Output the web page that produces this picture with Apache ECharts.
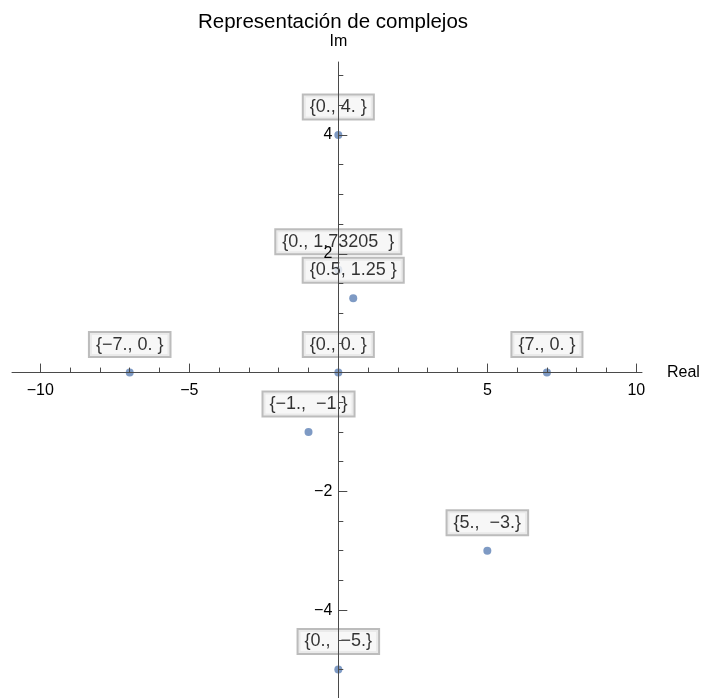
<!DOCTYPE html>
<html>
<head>
<meta charset="utf-8">
<script src="https://cdn.jsdelivr.net/npm/echarts@6/dist/echarts.min.js"></script>
<style>
  html, body { margin: 0; padding: 0; background: #ffffff; }
  #chart { width: 703px; height: 698px; }
</style>
</head>
<body>
<div id="chart"></div>
<script>
// Complex numbers plotted on the Argand plane
const titleText = 'Representación de complejos';
const realParts = [0, 0, 0.5, -7, 0, 7, -1, 5, 0];
const imagParts = [4, 1.73205, 1.25, 0, 0, 0, -1, -3, -5];
const pointLabels = [
  '{0., 4. }',
  '{0., 1.73205  }',
  '{0.5, 1.25 }',
  '{\u22127., 0. }',
  '{0., 0. }',
  '{7., 0. }',
  '{\u22121.,  \u22121.}',
  '{5.,  \u22123.}',
  '{0.,  \u22125.}'
];
const xMajorTicks = [-10, -5, 5, 10];
const xMinorTicks = [-9, -8, -7, -6, -4, -3, -2, -1, 1, 2, 3, 4, 6, 7, 8, 9];
const yMajorTicks = [-4, -2, 2, 4];
const yMinorTicks = [-5, -4.5, -3.5, -3, -2.5, -1.5, -1, -0.5, 0.5, 1, 1.5, 2.5, 3, 3.5, 4.5, 5];
const xRange = [-10.95, 10.19];
const yRange = [-5.48, 5.23];

const FONT = '"Liberation Sans", Arial, Helvetica, sans-serif';
const AXIS_COLOR = '#4a4a4a';
const minus = v => String(v).replace('-', '\u2212');

// plot area
const W = 703, H = 698;
const GRID = { left: 12, right: 61, top: 62, bottom: 0 };
const plotW = W - GRID.left - GRID.right;
const plotH = H - GRID.top - GRID.bottom;
// shift the axes inward so they cross at the origin
const xAxisShift = -(plotH * (0 - yRange[0]) / (yRange[1] - yRange[0]));
const yAxisShift = -(plotW * (0 - xRange[0]) / (xRange[1] - xRange[0]));

const points = realParts.map((x, i) => [x, imagParts[i]]);
const labelled = points.map((p, i) => ({ value: p, label: { formatter: pointLabels[i] } }));

function majorAxis(dim, range, ticks, name, shift) {
  const isX = dim === 'x';
  return {
    type: 'value',
    position: isX ? 'bottom' : 'left',
    offset: shift,
    min: range[0],
    max: range[1],
    z: 5,
    name: name,
    nameLocation: 'end',
    nameGap: isX ? 25 : 12,
    nameTextStyle: { color: '#000', fontSize: 16, fontFamily: FONT },
    axisLine: { show: true, onZero: false, lineStyle: { color: AXIS_COLOR, width: 1 } },
    axisTick: { show: true, inside: true, length: 9, customValues: ticks, lineStyle: { color: AXIS_COLOR, width: 1 } },
    axisLabel: {
      show: true, customValues: ticks, margin: isX ? 10 : 6,
      color: '#000', fontSize: 16, fontFamily: FONT,
      formatter: minus
    },
    splitLine: { show: false }
  };
}

function minorAxis(dim, range, ticks, shift) {
  const isX = dim === 'x';
  return {
    type: 'value',
    position: isX ? 'bottom' : 'left',
    offset: shift,
    min: range[0],
    max: range[1],
    z: 5,
    axisLine: { show: false, onZero: false },
    axisTick: { show: true, inside: true, length: 5, customValues: ticks, lineStyle: { color: AXIS_COLOR, width: 1 } },
    axisLabel: { show: false },
    splitLine: { show: false }
  };
}

const chart = echarts.init(document.getElementById('chart'), null, { renderer: 'canvas' });
chart.setOption({
  animation: false,
  backgroundColor: '#ffffff',
  title: {
    text: titleText,
    left: 193,
    top: 7,
    textStyle: { color: '#000', fontSize: 20.5, fontWeight: 'normal', fontFamily: FONT }
  },
  grid: {
    left: GRID.left, right: GRID.right, top: GRID.top, bottom: GRID.bottom,
    containLabel: false,
    outerBoundsMode: 'none'
  },
  xAxis: [
    majorAxis('x', xRange, xMajorTicks, 'Real', xAxisShift),
    minorAxis('x', xRange, xMinorTicks, xAxisShift)
  ],
  yAxis: [
    majorAxis('y', yRange, yMajorTicks, 'Im', yAxisShift),
    minorAxis('y', yRange, yMinorTicks, yAxisShift)
  ],
  series: [
    {
      // the points themselves, at the bottom of the stack
      type: 'scatter',
      xAxisIndex: 0,
      yAxisIndex: 0,
      z: 1,
      symbol: 'circle',
      symbolSize: 8,
      itemStyle: { color: '#5e81b5' },
      data: points,
      emphasis: { disabled: true }
    },
    {
      // boxed coordinate labels over the points, beneath the axes
      type: 'scatter',
      xAxisIndex: 0,
      yAxisIndex: 0,
      z: 2,
      symbolSize: 1,
      itemStyle: { color: 'transparent' },
      data: labelled,
      label: {
        show: true,
        position: 'inside',
        offset: [0, -28],
        color: '#000',
        fontSize: 18,
        fontFamily: FONT,
        backgroundColor: '#f5f5f5',
        borderColor: '#ababab',
        borderWidth: 2,
        padding: [3, 6, 2, 6]
      },
      emphasis: { disabled: true }
    }
  ]
});
</script>
</body>
</html>
